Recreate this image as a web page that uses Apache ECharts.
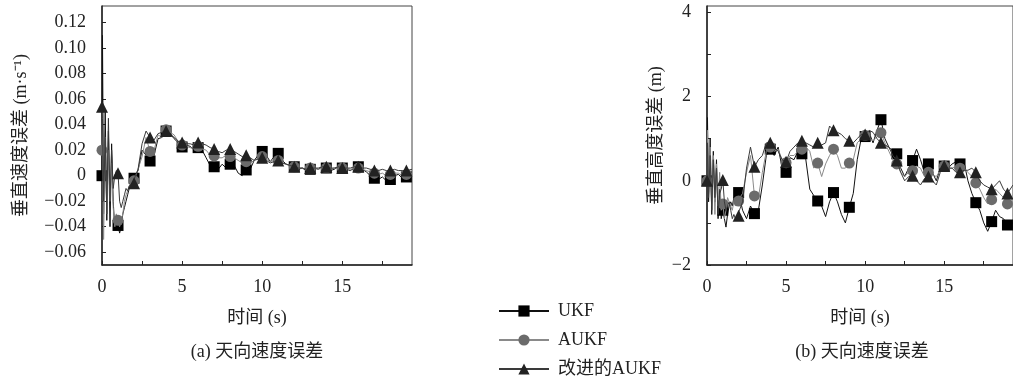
<!DOCTYPE html>
<html><head><meta charset="utf-8">
<script src="https://cdn.jsdelivr.net/npm/echarts@6/dist/echarts.min.js"></script>
<style>html,body{margin:0;padding:0;background:#fff}#c{width:1013px;height:380px}</style>
</head><body><div id="c"></div>
<script>
// shared time grid (s)
const T = [0,0.03,0.1,0.2,0.3,0.4,0.5,0.6,0.7,0.8,0.9,1,1.1,1.2,1.3,1.4,1.5,1.6,1.7,1.8,1.9,
  2,2.25,2.5,2.75,3,3.25,3.5,3.75,4,4.25,4.5,4.75,5,5.25,5.5,5.75,
  6,6.25,6.5,6.75,7,7.25,7.5,7.75,8,8.25,8.5,8.75,9,9.25,9.5,9.75,
  10,10.25,10.5,10.75,11,11.25,11.5,11.75,12,12.25,12.5,12.75,13,13.25,13.5,13.75,
  14,14.25,14.5,14.75,15,15.25,15.5,15.75,16,16.25,16.5,16.75,17,17.25,17.5,17.75,
  18,18.25,18.5,18.75,19,19.35];

// (a) vertical velocity error (m/s)
const velUKF = [0,0.11,-0.03,0.05,-0.035,0.035,-0.04,0.025,-0.02,-0.042,-0.03,-0.039,-0.045,-0.04,-0.03,-0.025,-0.02,-0.015,-0.01,-0.005,-0.004,
  -0.002,0.004,0.02,0.016,0.0115,0.016,0.029,0.03,0.035,0.033,0.029,0.026,0.0225,0.024,0.023,0.02,
  0.022,0.02,0.014,0.008,0.007,0.005,0.009,0.006,0.009,0.008,0.002,0.0,0.0045,0.005,0.012,0.016,
  0.019,0.016,0.011,0.015,0.0175,0.012,0.009,0.008,0.007,0.005,0.006,0.004,0.005,0.006,0.005,0.007,
  0.006,0.004,0.005,0.007,0.006,0.005,0.004,0.006,0.007,0.005,0.003,0.0,-0.002,-0.003,-0.001,-0.004,
  -0.003,0.0,0.001,-0.002,-0.001,0.0];
const velAUKF = [0.02,0.05,-0.05,0.03,-0.03,0.02,-0.02,0.01,-0.025,-0.04,-0.03,-0.035,-0.04,-0.035,-0.03,-0.02,-0.015,-0.012,-0.008,-0.006,-0.005,
  -0.004,0.005,0.015,0.03,0.019,0.02,0.032,0.03,0.036,0.034,0.032,0.027,0.024,0.023,0.022,0.021,
  0.023,0.021,0.02,0.016,0.0155,0.014,0.014,0.016,0.015,0.014,0.012,0.01,0.011,0.01,0.012,0.014,
  0.015,0.013,0.011,0.012,0.012,0.01,0.009,0.008,0.007,0.006,0.006,0.005,0.006,0.006,0.005,0.006,
  0.006,0.005,0.006,0.006,0.006,0.006,0.005,0.006,0.006,0.005,0.004,0.003,0.002,0.001,0.002,0.0,
  0.001,0.002,0.002,0.0,0.001,0.002];
const velIAUKF = [0.054,0.045,-0.02,0.03,-0.03,0.045,-0.02,0.02,-0.01,0.0,0.004,0.002,-0.02,-0.025,-0.02,-0.015,-0.01,-0.012,-0.008,-0.007,-0.006,
  -0.006,0.005,0.025,0.035,0.03,0.028,0.033,0.034,0.035,0.033,0.03,0.027,0.026,0.025,0.025,0.024,
  0.026,0.025,0.024,0.022,0.021,0.019,0.018,0.02,0.021,0.019,0.017,0.015,0.016,0.014,0.012,0.013,
  0.014,0.012,0.01,0.011,0.012,0.01,0.009,0.008,0.007,0.006,0.006,0.005,0.006,0.006,0.006,0.007,
  0.007,0.006,0.006,0.007,0.006,0.006,0.006,0.007,0.007,0.006,0.006,0.005,0.004,0.004,0.005,0.004,
  0.004,0.005,0.004,0.004,0.004,0.005];

// (b) vertical height error (m)
const hUKF = [0,1.5,-0.5,1.0,-0.8,0.7,-0.5,0.5,-0.9,-0.2,-0.9,-0.7,-0.9,-1.1,-0.8,-0.6,-0.5,-0.6,-0.4,-0.5,-0.4,
  -0.28,-0.7,-0.9,-0.6,-0.78,-0.7,-0.1,0.6,0.75,0.6,0.8,0.3,0.2,0.55,0.5,0.7,
  0.64,0.5,-0.2,-0.35,-0.48,-0.6,-0.85,-0.5,-0.28,-0.5,-0.8,-1.0,-0.63,-0.3,0.5,1.0,
  1.05,1.15,0.9,1.2,1.45,1.0,0.8,0.7,0.64,0.3,0.1,0.3,0.48,0.75,0.5,0.2,
  0.4,0.2,0.0,0.3,0.35,0.3,0.4,0.45,0.4,0.45,0.0,-0.3,-0.52,-0.7,-1.0,-1.2,
  -0.97,-0.7,-0.85,-0.9,-1.05,-1.0];
const hAUKF = [0,1.2,-0.3,0.8,-0.6,0.6,-0.8,0.4,-0.6,0.2,-0.7,-0.55,-0.9,-0.7,-0.4,-0.5,-0.6,-0.7,-0.5,-0.6,-0.5,
  -0.48,-0.3,0.2,0.6,-0.36,-0.4,0.2,0.7,0.8,0.7,0.75,0.5,0.43,0.6,0.6,0.7,
  0.75,0.8,0.7,0.3,0.42,0.1,0.4,0.6,0.75,0.6,0.3,0.3,0.42,0.5,0.9,1.0,
  1.08,1.0,0.95,1.05,1.14,0.9,0.7,0.5,0.4,0.2,0.1,0.2,0.24,0.35,0.3,0.1,
  0.2,0.15,0.1,0.25,0.35,0.3,0.3,0.35,0.3,0.3,0.2,0.1,-0.05,-0.2,-0.4,-0.55,
  -0.45,-0.2,-0.3,-0.4,-0.55,-0.4];
const hIAUKF = [0,0.9,-0.4,0.6,-0.7,0.5,-0.4,0.3,-0.8,-0.3,-0.2,0.02,-0.5,-0.7,-0.6,-0.5,-0.7,-0.9,-0.8,-0.9,-0.85,
  -0.83,-0.5,0.3,0.8,0.33,0.5,0.6,0.9,0.9,0.8,0.7,0.5,0.45,0.7,0.8,0.9,
  0.95,0.9,0.85,0.8,0.9,0.85,0.9,1.3,1.2,1.15,1.1,1.0,0.95,0.9,1.0,1.1,
  1.1,1.2,1.15,1.0,0.9,0.85,0.8,0.6,0.48,0.2,0.0,0.1,0.12,0.0,-0.1,0.05,
  0.1,0.0,-0.1,0.2,0.35,0.3,0.3,0.2,0.2,0.25,0.25,0.3,0.2,0.0,-0.1,-0.15,
  -0.2,-0.1,0.0,-0.2,-0.3,-0.1];

const xTicks = [0,5,10,15];
const xMinorTicks = [0,2.5,5,7.5,10,12.5,15,17.5];
const velTicks = [-0.06,-0.04,-0.02,0,0.02,0.04,0.06,0.08,0.10,0.12];
const hTicks = [-2,0,2,4];
const hMinorTicks = [-2,-1,0,1,2,3,4];
const names = ['UKF','AUKF','改进的AUKF'];

const SERIF = "'Liberation Serif','DejaVu Serif','Noto Sans CJK SC',serif";
const CJK = "'Liberation Serif','Noto Sans CJK SC',serif";
const minus = s => String(s).replace('-', '\u2212');

const styles = [
  {symbol:'rect', line:'#111', fill:'#000', size:11},
  {symbol:'circle', line:'#8a8a8a', fill:'#6b6b6b', size:11},
  {symbol:'triangle', line:'#3a3a3a', fill:'#222', size:12}
];

function pairs(ys){ return T.map((t,i)=>[t, ys[i]]); }
function mkSeries(idx, ys, ax){
  const s = styles[idx];
  return {
    type:'line', name:names[idx], xAxisIndex:ax, yAxisIndex:ax,
    data:pairs(ys), symbol:s.symbol, showSymbol:true, showAllSymbol:true,
    symbolSize: v => Number.isInteger(v[0]) ? s.size : 0,
    lineStyle:{color:s.line, width:1}, itemStyle:{color:s.fill, borderWidth:0},
    emphasis:{disabled:true}, z: 2+idx
  };
}

function xAxis(gi){
  return {
    type:'value', gridIndex:gi, min:0, max:19.35,
    name:'时间 (s)', nameLocation:'middle', nameGap:44,
    nameTextStyle:{fontFamily:CJK, fontSize:18, color:'#222'},
    axisLine:{show:true, onZero:false, lineStyle:{color:'#222', width:1.5}},
    axisTick:{show:true, inside:true, length:4, customValues:xMinorTicks, lineStyle:{color:'#222'}},
    axisLabel:{fontFamily:SERIF, fontSize:18, color:'#222', margin:13, customValues: xTicks},
    splitLine:{show:false}
  };
}

const chart = echarts.init(document.getElementById('c'), null, {renderer:'canvas'});
chart.setOption({
  animation:false,
  backgroundColor:'#fff',
  title:[
    {text:'(a) 天向速度误差', left:257, top:343, textAlign:'center', padding:0,
     textStyle:{fontFamily:CJK, fontSize:18, fontWeight:'normal', color:'#222'}},
    {text:'(b) 天向速度误差', left:862, top:343, textAlign:'center', padding:0,
     textStyle:{fontFamily:CJK, fontSize:18, fontWeight:'normal', color:'#222'}}
  ],
  legend:{
    orient:'vertical', left:498, top:302, itemWidth:50, itemHeight:14, itemGap:11,
    data:names, textStyle:{fontFamily:CJK, fontSize:18, color:'#222', padding:[0,0,0,4]}, padding:0
  },
  grid:[
    {left:102, top:6, width:310, height:259, show:true, borderColor:'#444', borderWidth:1},
    {left:707, top:6, width:311, height:259, show:true, borderColor:'#444', borderWidth:1}
  ],
  xAxis:[xAxis(0), xAxis(1)],
  yAxis:[
    {type:'value', gridIndex:0, min:-0.07, max:0.133,
     name:'垂直速度误差 (m·s⁻¹)', nameLocation:'middle', nameGap:72, nameRotate:90,
     nameTextStyle:{fontFamily:CJK, fontSize:18, color:'#222'},
     axisLine:{show:true, onZero:false, lineStyle:{color:'#222', width:1.5}},
     axisTick:{show:true, inside:true, length:4, customValues:velTicks, lineStyle:{color:'#222'}},
     axisLabel:{fontFamily:SERIF, fontSize:18, color:'#222', margin:16, customValues:velTicks,
       formatter: v => Math.abs(v) < 1e-9 ? '0' : minus(v.toFixed(2))},
     splitLine:{show:false}},
    {type:'value', gridIndex:1, min:-2, max:4.15,
     name:'垂直高度误差 (m)', nameLocation:'middle', nameGap:42, nameRotate:90,
     nameTextStyle:{fontFamily:CJK, fontSize:18, color:'#222'},
     axisLine:{show:true, onZero:false, lineStyle:{color:'#222', width:1.5}},
     axisTick:{show:true, inside:true, length:4, customValues:hMinorTicks, lineStyle:{color:'#222'}},
     axisLabel:{fontFamily:SERIF, fontSize:18, color:'#222', margin:16, customValues:hTicks,
       formatter: v => minus(v)},
     splitLine:{show:false}}
  ],
  series:[
    mkSeries(0, velUKF, 0), mkSeries(1, velAUKF, 0), mkSeries(2, velIAUKF, 0),
    mkSeries(0, hUKF, 1), mkSeries(1, hAUKF, 1), mkSeries(2, hIAUKF, 1)
  ]
});
</script></body></html>
